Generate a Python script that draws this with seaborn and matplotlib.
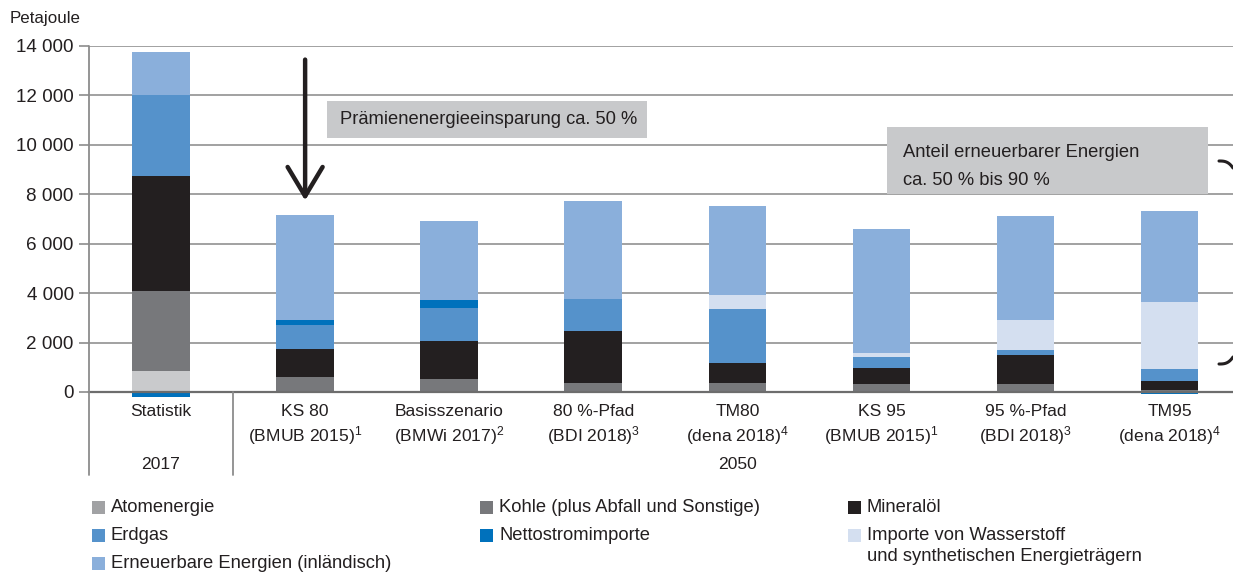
import numpy as np
import pandas as pd
import seaborn as sns
import matplotlib
matplotlib.use("Agg")
import matplotlib.pyplot as plt
from matplotlib.patches import Rectangle
from matplotlib.lines import Line2D
import matplotlib.transforms as mtransforms

# ---------------- data ----------------
categories = ["Statistik", "KS 80", "Basisszenario", "80 %-Pfad", "TM80",
              "KS 95", "95 %-Pfad", "TM95"]
cat_labels = ["Statistik",
              "KS 80\n(BMUB 2015)$^1$",
              "Basisszenario\n(BMWi 2017)$^2$",
              "80 %-Pfad\n(BDI 2018)$^3$",
              "TM80\n(dena 2018)$^4$",
              "KS 95\n(BMUB 2015)$^1$",
              "95 %-Pfad\n(BDI 2018)$^3$",
              "TM95\n(dena 2018)$^4$"]
atom      = [830,    0,    0,    0,    0,    0,    0,    0]
kohle     = [3250, 600,  510,  360,  360,  320,  320,  100]
mineraloel= [4680, 1150, 1550, 2110, 830,  650,  1180, 360]
erdgas    = [3240, 960,  1330, 1300, 2170, 430,  200,  480]
netto     = [-200, 200,  330,  0,    -60,  0,    0,    -80]
h2_importe= [0,    0,    0,    0,    570,  170,  1230, 2690]
erneuerbar= [1770, 4260, 3200, 3960, 3600, 5020, 4210, 3700]

yticks = [0, 2000, 4000, 6000, 8000, 10000, 12000, 14000]
ytick_labels = ["0", "2 000", "4 000", "6 000", "8 000", "10 000", "12 000", "14 000"]

layer_names = ["Atomenergie", "Kohle (plus Abfall und Sonstige)", "Mineralöl",
               "Erdgas", "Nettostromimporte",
               "Importe von Wasserstoff\nund synthetischen Energieträgern",
               "Erneuerbare Energien (inländisch)"]
layer_colors = ["#c9cacc", "#77787b", "#231f20", "#5592cb", "#0071bc", "#d4dff0", "#8aafdb"]
legend_colors = ["#a1a2a4", "#77787b", "#231f20", "#5592cb", "#0071bc", "#d4dff0", "#8aafdb"]

# ---------------- style ----------------
sns.set_theme(style="white")
plt.rcParams['font.family'] = ['Liberation Sans', 'DejaVu Sans']
plt.rcParams['mathtext.fontset'] = 'custom'
plt.rcParams['mathtext.rm'] = 'Liberation Sans'
plt.rcParams['mathtext.default'] = 'regular'
FS_CAT = 12.6
FS_TXT = 13.2
FS_Y = 13.6
TXT = "#231f20"

fig = plt.figure(figsize=(12.33, 5.72), dpi=100)
ax = fig.add_axes([89/1233, 1-392/572, 1-89/1233, 346/572])

df = pd.DataFrame({"cat": categories, "atom": atom, "kohle": kohle,
                   "mineraloel": mineraloel, "erdgas": erdgas,
                   "netto_pos": np.clip(netto, 0, None),
                   "netto_neg": np.clip(netto, None, 0),
                   "h2": h2_importe, "ern": erneuerbar})
layers = ["atom", "kohle", "mineraloel", "erdgas", "netto_pos", "h2", "ern"]
cum = df[layers].cumsum(axis=1)

# draw cumulative totals from top layer down so lower layers overpaint
for lay, col in reversed(list(zip(layers, layer_colors))):
    sns.barplot(x=df["cat"], y=cum[lay], order=categories, color=col,
                saturation=1, width=0.4, errorbar=None, ax=ax,
                linewidth=0, zorder=3)
# negative net imports below zero
sns.barplot(x=df["cat"], y=df["netto_neg"], order=categories, color=layer_colors[4],
            saturation=1, width=0.4, errorbar=None, ax=ax, linewidth=0, zorder=3)
for p in ax.patches:
    p.set_clip_on(False)

ax.set_xlim(-0.5, 7.44)
ax.set_ylim(0, 14000)
ax.set_xlabel("")
ax.set_ylabel("")
ax.set_yticks(yticks)
ax.set_yticklabels(ytick_labels, fontsize=FS_Y, color=TXT)
ax.set_xticks(range(len(categories)))
ax.set_xticklabels(cat_labels, fontsize=FS_CAT, color=TXT, linespacing=1.25)
ax.tick_params(axis="x", length=0, pad=9)
ax.tick_params(axis="y", length=7, width=1.2, color="#8c8c8c", pad=4, left=True)
ax.grid(axis="y", color="#9a9a9a", lw=1.3, zorder=1)
ax.set_axisbelow(True)
for s in ["top", "right", "left"]:
    ax.spines[s].set_visible(False)
ax.spines["bottom"].set_color("#6d6d6d")
ax.spines["bottom"].set_linewidth(1.6)
ax.spines["bottom"].set_zorder(4)

# left axis line + separators extending below
trans = mtransforms.blended_transform_factory(ax.transData, ax.transAxes)
ax.add_line(Line2D([-0.5, -0.5], [-0.24, 1.0], transform=trans, color="#8c8c8c",
                   lw=1.3, clip_on=False, zorder=5))
ax.add_line(Line2D([0.5, 0.5], [-0.24, 0.0], transform=trans, color="#8c8c8c",
                   lw=1.3, clip_on=False, zorder=5))

# year row
ax.text(0, -0.21, "2017", transform=trans, ha="center", va="center", fontsize=FS_CAT, color=TXT)
ax.text(4, -0.21, "2050", transform=trans, ha="center", va="center", fontsize=FS_CAT, color=TXT)

# y-axis unit
fig.text(10/1233, 1-18/572, "Petajoule", fontsize=12.2, color=TXT, va="center", ha="left")

# arrow
ax.annotate("", xy=(1, 7750), xytext=(1, 13450),
            arrowprops=dict(arrowstyle="->,head_width=0.42,head_length=0.7",
                            lw=3.2, color=TXT, mutation_scale=30, shrinkA=0, shrinkB=0),
            zorder=6)

# annotation boxes
ax.add_patch(Rectangle((1.152, 10280), 3.373 - 1.152, 11780 - 10280,
                       facecolor="#c8c9cb", edgecolor="none", zorder=5))
ax.text(1.24, 11040, "Prämienenergieeinsparung ca. 50 %", fontsize=FS_TXT, color=TXT,
        va="center", ha="left", zorder=6)
ax.add_patch(Rectangle((5.038, 8010), 7.266 - 5.038, 10720 - 8010,
                       facecolor="#c8c9cb", edgecolor="none", zorder=5))
ax.text(5.15, 9710, "Anteil erneuerbarer Energien", fontsize=FS_TXT, color=TXT,
        va="center", ha="left", zorder=6)
ax.text(5.15, 8570, "ca. 50 % bis 90 %", fontsize=FS_TXT, color=TXT,
        va="center", ha="left", zorder=6)

# partial brace marks at right edge
t = np.linspace(0, 1, 20)
bx = (1219 + 14 * t) / 1233
fig.add_artist(Line2D(bx, 1 - (161 + 7 * t**3) / 572, transform=fig.transFigure,
                      color=TXT, lw=2.2))
fig.add_artist(Line2D(bx, 1 - (364 - 7 * t**3) / 572, transform=fig.transFigure,
                      color=TXT, lw=2.2))

# manual legend
col_x = [92, 480, 848]
row_y = [507, 535, 563]
legend_pos = [(0, 0), (1, 0), (2, 0), (0, 1), (1, 1), (2, 1), (0, 2)]
for name, col, (c, r) in zip(layer_names, legend_colors, legend_pos):
    x0 = col_x[c] / 1233
    y0 = 1 - row_y[r] / 572
    fig.add_artist(Rectangle((x0, y0 - 6.5/572), 13/1233, 13/572,
                             transform=fig.transFigure, facecolor=col, edgecolor="none"))
    ty = y0 - (11 / 572 if "\n" in name else 0)
    fig.text(x0 + 19/1233, ty, name, fontsize=FS_TXT, color=TXT, va="center",
             ha="left", linespacing=1.25)

fig.savefig("out.png", dpi=100)
